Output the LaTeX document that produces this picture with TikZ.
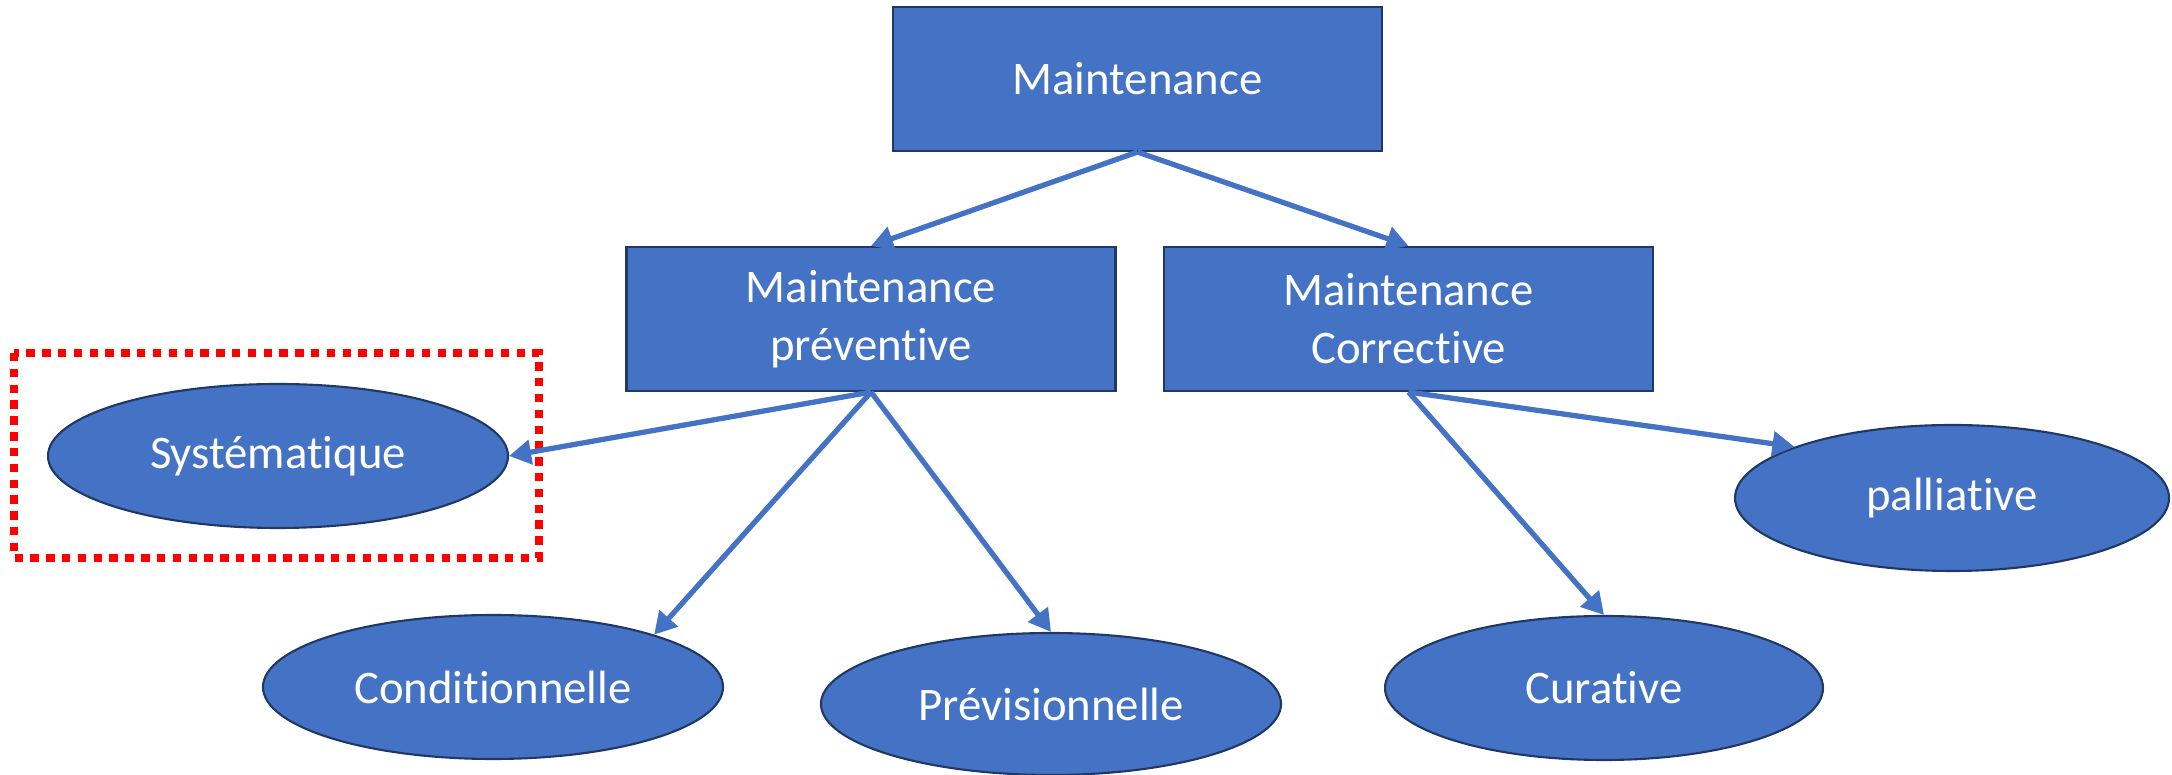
\documentclass[tikz,border=0pt]{standalone}
\usepackage{fontspec}
\setmainfont{Carlito}[Ligatures=NoCommon]
\usepackage{tikz}
\usetikzlibrary{shapes.geometric,arrows.meta}
\definecolor{boxblue}{HTML}{4472C4}
\definecolor{boxline}{HTML}{1F3864}

\begin{document}
\begin{tikzpicture}[box/.style = {draw = boxline, line width = .6pt, fill = boxblue, text = white, align = center, minimum width = 4.89cm, minimum height = 1.44cm, font = \fontsize{13.3}{16.5}\selectfont},
    oval/.style = {draw = boxline, line width = .6pt, fill = boxblue, text = white, shape = ellipse, inner sep = 0pt, minimum height = 1.44cm, font = \fontsize{13.3}{16.5}\selectfont},
    link/.style = {draw = boxblue, line width = 1.5pt, -{Triangle[length = 2.2mm, width = 2.4mm]}}]
    \useasboundingbox (0,0) rectangle (21.72,-7.75);
    % boxes
    \node[box] (maint) at (11.375,-.79) {Maintenance};
    \node[box] (prev) at (8.71,-3.19) {Maintenance\\préventive};
    \node[box] (corr) at (14.085,-3.19) {Maintenance\\Corrective};
    % ellipses
    \node[oval, minimum width = 4.6cm] (sys) at (2.78,-4.56) {Systématique};
    \node[oval, minimum width = 4.6cm] (cond) at (4.93,-6.87) {Conditionnelle};
    \node[oval, minimum width = 4.6cm, minimum height = 1.42cm] (previs) at (10.51,-7.04) {Prévisionnelle};
    \node[oval, minimum width = 4.38cm] (cur) at (16.04,-6.88) {Curative};
    \node[oval, minimum width = 4.34cm, minimum height = 1.46cm] (pall) at (19.52,-4.98) {palliative};
    % highlight
    \draw[red, line width = 2pt, dash pattern = on 2.4pt off 2.1pt] (.14,-3.53) rectangle (5.39,-5.58);
    % links
    \draw[link] (maint.south) -- (prev.north);
    \draw[link] (maint.south) -- (corr.north);
    \draw[link] (prev.south) -- (sys.east);
    \draw[link] (prev.south) -- (cond.18);
    \draw[link] (prev.south) -- (previs.north);
    \draw[link] (corr.south) -- (cur.north);
    \draw[link] (corr.south) -- (pall.162);
\end{tikzpicture}
\end{document}
